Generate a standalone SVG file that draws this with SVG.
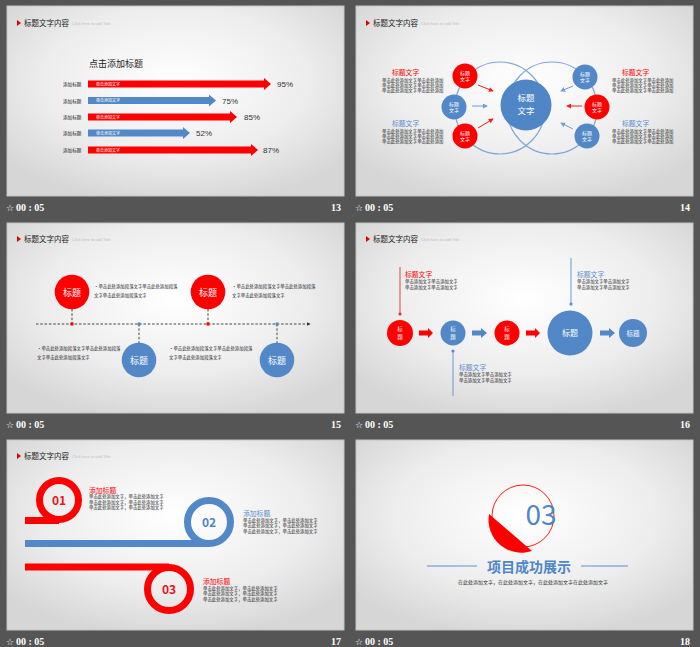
<svg xmlns="http://www.w3.org/2000/svg" width="700" height="647" viewBox="0 0 700 647">
  <defs>
    <radialGradient id="slideBg" cx="0.5" cy="0.4" r="0.65">
      <stop offset="0" stop-color="#ffffff"/>
      <stop offset="0.6" stop-color="#ededed"/>
      <stop offset="1" stop-color="#d6d6d6"/>
    </radialGradient>
    <marker id="arrRed" viewBox="0 0 6 6" refX="5" refY="3" markerWidth="5" markerHeight="5" orient="auto">
      <path d="M0,0 L6,3 L0,6 Z" fill="#ff1a1a"/>
    </marker>
    <marker id="arrBlue" viewBox="0 0 6 6" refX="5" refY="3" markerWidth="5" markerHeight="5" orient="auto">
      <path d="M0,0 L6,3 L0,6 Z" fill="#6f9bd1"/>
    </marker>
    <marker id="arrDark" viewBox="0 0 6 6" refX="5" refY="3" markerWidth="4" markerHeight="4" orient="auto">
      <path d="M0,0 L6,3 L0,6 Z" fill="#333"/>
    </marker>
    <!-- slide heading: red pointer + title + hint -->
    <g id="heading">
      <path d="M17,20 L21,23 L17,26 Z" fill="#e00000"/>
      <text x="24" y="25.5" class="hd">标题文字内容</text>
      <text x="72" y="25" class="hint">Click here to add Title</text>
    </g>
  </defs>
  <style>
    text { font-family: "Noto Sans CJK SC", "Liberation Sans", sans-serif; }
    .slide { fill: url(#slideBg); stroke: #c4c4c4; stroke-width: 1; }
    .hd { font-size: 7.5px; fill: #222; }
    .hint { font-size: 4px; fill: #c0c0c0; font-family: "Liberation Sans", sans-serif; }
    .foot { font-family: "Liberation Serif", "DejaVu Serif", serif; font-weight: bold; font-size: 10px; fill: #ffffff; }
    .star { font-family: "DejaVu Sans", sans-serif; font-size: 9px; fill: #ffffff; }
    .red { fill: #ff0000; }
    .blue { fill: #5288c8; }
    .wt { fill: #ffffff; text-anchor: middle; }
    .body { font-size: 4.4px; fill: #222; }
    .lbl { font-size: 4.6px; fill: #222; }
    .pct { font-size: 8px; fill: #333; font-family: "Liberation Sans", sans-serif; }
    .tRed { font-size: 6.8px; fill: #ff0000; }
    .tBlue { font-size: 6.8px; fill: #5a8fd0; }
    .ring { fill: none; stroke-width: 7; }
  </style>

  <!-- backdrop -->
  <rect x="0" y="0" width="700" height="647" fill="#555555"/>

  <!-- ===== footers ===== -->
  <g id="footers">
    <text x="6" y="211" class="star">☆</text><text x="16" y="211" class="foot">00 : 05</text>
    <text x="341" y="211" class="foot" text-anchor="end">13</text>
    <text x="355" y="211" class="star">☆</text><text x="365" y="211" class="foot">00 : 05</text>
    <text x="690" y="211" class="foot" text-anchor="end">14</text>
    <text x="6" y="428" class="star">☆</text><text x="16" y="428" class="foot">00 : 05</text>
    <text x="341" y="428" class="foot" text-anchor="end">15</text>
    <text x="355" y="428" class="star">☆</text><text x="365" y="428" class="foot">00 : 05</text>
    <text x="690" y="428" class="foot" text-anchor="end">16</text>
    <text x="6" y="645" class="star">☆</text><text x="16" y="645" class="foot">00 : 05</text>
    <text x="341" y="645" class="foot" text-anchor="end">17</text>
    <text x="355" y="645" class="star">☆</text><text x="365" y="645" class="foot">00 : 05</text>
    <text x="690" y="645" class="foot" text-anchor="end">18</text>
  </g>

  <!-- ===== slide 13: bar chart ===== -->
  <g id="slide13">
    <rect x="7" y="6" width="337" height="190" class="slide"/>
    <use href="#heading"/>
    <text x="89" y="67" font-size="9" fill="#222">点击添加标题</text>
    <g id="bar1">
      <text x="63" y="86" class="lbl">添加标题</text>
      <path d="M88,80.5 H264 V78 L271,84 L264,90 V87.5 H88 Z" class="red"/>
      <text x="96" y="85.5" font-size="4" fill="#fff">单击添加文字</text>
      <text x="277" y="87" class="pct">95%</text>
    </g>
    <g id="bar2">
      <text x="63" y="102.5" class="lbl">添加标题</text>
      <path d="M88,97 H209 V94.5 L216,100.5 L209,106.5 V104 H88 Z" class="blue"/>
      <text x="96" y="102" font-size="4" fill="#fff">单击添加文字</text>
      <text x="222" y="103.5" class="pct">75%</text>
    </g>
    <g id="bar3">
      <text x="63" y="119" class="lbl">添加标题</text>
      <path d="M88,113.5 H230 V111 L237,117 L230,123 V120.5 H88 Z" class="red"/>
      <text x="96" y="118.5" font-size="4" fill="#fff">单击添加文字</text>
      <text x="244" y="120" class="pct">85%</text>
    </g>
    <g id="bar4">
      <text x="63" y="135" class="lbl">添加标题</text>
      <path d="M88,129.5 H183 V127 L190,133 L183,139 V136.5 H88 Z" class="blue"/>
      <text x="96" y="134.5" font-size="4" fill="#fff">单击添加文字</text>
      <text x="196" y="136" class="pct">52%</text>
    </g>
    <g id="bar5">
      <text x="63" y="152" class="lbl">添加标题</text>
      <path d="M88,146.5 H251 V144 L258,150 L251,156 V153.5 H88 Z" class="red"/>
      <text x="96" y="151.5" font-size="4" fill="#fff">单击添加文字</text>
      <text x="263" y="153" class="pct">87%</text>
    </g>
  </g>

  <!-- ===== slide 14: converging circles ===== -->
  <g id="slide14">
    <rect x="356" y="6" width="337" height="190" class="slide"/>
    <use href="#heading" x="349"/>
    <g id="rings14" fill="none" stroke="#7fa7d8" stroke-width="1.2">
      <ellipse cx="500" cy="108" rx="45" ry="46"/>
      <ellipse cx="552" cy="108" rx="45" ry="46"/>
    </g>
    <g id="hub14">
      <circle cx="526" cy="105" r="25.5" fill="#4f86c6"/>
      <text x="526" y="101" class="wt" font-size="8.5">标题</text>
      <text x="526" y="114" class="wt" font-size="8.5">文字</text>
    </g>
    <g id="n14a"><circle cx="465" cy="76" r="12.5" class="red"/><text x="465" y="75" class="wt" font-size="5">标题</text><text x="465" y="81" class="wt" font-size="5">文字</text></g>
    <g id="n14b"><circle cx="454" cy="107" r="12.5" class="blue"/><text x="454" y="106" class="wt" font-size="5">标题</text><text x="454" y="112" class="wt" font-size="5">文字</text></g>
    <g id="n14c"><circle cx="465" cy="136" r="12.5" class="red"/><text x="465" y="135" class="wt" font-size="5">标题</text><text x="465" y="141" class="wt" font-size="5">文字</text></g>
    <g id="n14d"><circle cx="585" cy="77" r="12.5" class="blue"/><text x="585" y="76" class="wt" font-size="5">标题</text><text x="585" y="82" class="wt" font-size="5">文字</text></g>
    <g id="n14e"><circle cx="597" cy="107" r="12.5" class="red"/><text x="597" y="106" class="wt" font-size="5">标题</text><text x="597" y="112" class="wt" font-size="5">文字</text></g>
    <g id="n14f"><circle cx="587" cy="136" r="12.5" class="blue"/><text x="587" y="135" class="wt" font-size="5">标题</text><text x="587" y="141" class="wt" font-size="5">文字</text></g>
    <g id="connectors14" stroke-width="1">
      <line x1="478" y1="85" x2="493" y2="91" stroke="#ff1a1a" marker-end="url(#arrRed)"/>
      <line x1="472" y1="106" x2="487" y2="106" stroke="#6f9bd1" marker-end="url(#arrBlue)"/>
      <line x1="478" y1="128" x2="493" y2="119" stroke="#ff1a1a" marker-end="url(#arrRed)"/>
      <line x1="573" y1="86" x2="561" y2="91" stroke="#6f9bd1" marker-end="url(#arrBlue)"/>
      <line x1="582" y1="106" x2="567" y2="106" stroke="#ff1a1a" marker-end="url(#arrRed)"/>
      <line x1="573" y1="129" x2="561" y2="123" stroke="#6f9bd1" marker-end="url(#arrBlue)"/>
    </g>
    <g id="txt14a">
      <text x="392" y="74.5" class="tRed">标题文字</text>
      <text x="382" y="82" class="body">单击此处添加文字单击此处添加</text>
      <text x="382" y="87" class="body">单击此处添加文字单击此处添加</text>
      <text x="382" y="92" class="body">单击此处添加文字单击此处添加</text>
    </g>
    <g id="txt14b">
      <text x="392" y="125.5" class="tBlue">标题文字</text>
      <text x="382" y="133" class="body">单击此处添加文字单击此处添加</text>
      <text x="382" y="138" class="body">单击此处添加文字单击此处添加</text>
      <text x="382" y="143" class="body">单击此处添加文字单击此处添加</text>
    </g>
    <g id="txt14c">
      <text x="622" y="74.5" class="tRed">标题文字</text>
      <text x="612" y="82" class="body">单击此处添加文字单击此处添加</text>
      <text x="612" y="87" class="body">单击此处添加文字单击此处添加</text>
      <text x="612" y="92" class="body">单击此处添加文字单击此处添加</text>
    </g>
    <g id="txt14d">
      <text x="622" y="125.5" class="tBlue">标题文字</text>
      <text x="612" y="133" class="body">单击此处添加文字单击此处添加</text>
      <text x="612" y="138" class="body">单击此处添加文字单击此处添加</text>
      <text x="612" y="143" class="body">单击此处添加文字单击此处添加</text>
    </g>
  </g>

  <!-- ===== slide 15: timeline ===== -->
  <g id="slide15">
    <rect x="7" y="223" width="337" height="190" class="slide"/>
    <use href="#heading" y="216"/>
    <g id="connectors15" stroke="#333" stroke-width="0.9" stroke-dasharray="2.5,1.8" fill="none">
      <line x1="36" y1="324" x2="310" y2="324" marker-end="url(#arrDark)"/>
      <line x1="72" y1="309" x2="72" y2="324"/>
      <line x1="208" y1="309" x2="208" y2="324"/>
      <line x1="139" y1="324" x2="139" y2="343"/>
      <line x1="277" y1="324" x2="277" y2="343"/>
    </g>
    <g id="dots15">
      <rect x="70.5" y="322.5" width="3" height="3" fill="#ff0000"/>
      <rect x="206.5" y="322.5" width="3" height="3" fill="#ff0000"/>
      <rect x="137.5" y="322.5" width="3" height="3" fill="#5288c8"/>
      <rect x="275.5" y="322.5" width="3" height="3" fill="#5288c8"/>
    </g>
    <g id="n15a"><circle cx="72" cy="292" r="17.3" class="red"/><text x="72" y="295.5" class="wt" font-size="9">标题</text></g>
    <g id="n15b"><circle cx="208" cy="292" r="17.3" class="red"/><text x="208" y="295.5" class="wt" font-size="9">标题</text></g>
    <g id="n15c"><circle cx="139" cy="360" r="17.3" class="blue"/><text x="139" y="363.5" class="wt" font-size="9">标题</text></g>
    <g id="n15d"><circle cx="277" cy="360" r="17.3" class="blue"/><text x="277" y="363.5" class="wt" font-size="9">标题</text></g>
    <text x="94" y="288" class="body">•单击此处添加段落文字单击此处添加段落</text>
    <text x="94" y="297" class="body">文字单击此处添加段落文字</text>
    <text x="232" y="288" class="body">•单击此处添加段落文字单击此处添加段落</text>
    <text x="232" y="297" class="body">文字单击此处添加段落文字</text>
    <text x="37" y="350" class="body">•单击此处添加段落文字单击此处添加段落</text>
    <text x="37" y="359" class="body">文字单击此处添加段落文字</text>
    <text x="169" y="350" class="body">•单击此处添加段落文字单击此处添加段落</text>
    <text x="169" y="359" class="body">文字单击此处添加段落文字</text>
  </g>

  <!-- ===== slide 16: process flow ===== -->
  <g id="slide16">
    <rect x="356" y="223" width="337" height="190" class="slide"/>
    <use href="#heading" x="349" y="216"/>
    <g id="connectors16">
      <path d="M419,330.5 H428 V328 L433,333 L428,338 V335.5 H419 Z" class="red"/>
      <path d="M472,330.5 H481 V328 L487,333 L481,338 V335.5 H472 Z" class="blue"/>
      <path d="M526,330.5 H535 V328 L540,333 L535,338 V335.5 H526 Z" class="red"/>
      <path d="M600,330.5 H609 V328 L615,333 L609,338 V335.5 H600 Z" class="blue"/>
      <line x1="400" y1="267" x2="400" y2="314" stroke="#e53030" stroke-width="0.9"/>
      <circle cx="400" cy="314" r="1.6" fill="#e53030"/>
      <line x1="571" y1="258" x2="571" y2="304" stroke="#5a8fd0" stroke-width="0.9"/>
      <circle cx="571" cy="304" r="1.6" fill="#5a8fd0"/>
      <line x1="453" y1="351" x2="453" y2="396" stroke="#5a8fd0" stroke-width="0.9"/>
      <circle cx="453" cy="351" r="1.6" fill="#5a8fd0"/>
    </g>
    <g id="n16a"><circle cx="400" cy="333" r="13" class="red"/><text x="400" y="331" class="wt" font-size="5.5">标</text><text x="400" y="339" class="wt" font-size="5.5">题</text></g>
    <g id="n16b"><circle cx="453" cy="333" r="12.5" class="blue"/><text x="453" y="331" class="wt" font-size="5.5">标</text><text x="453" y="339" class="wt" font-size="5.5">题</text></g>
    <g id="n16c"><circle cx="507" cy="333" r="12.5" class="red"/><text x="507" y="331" class="wt" font-size="5.5">标</text><text x="507" y="339" class="wt" font-size="5.5">题</text></g>
    <g id="n16d"><circle cx="570" cy="333" r="22.5" class="blue"/><text x="570" y="336" class="wt" font-size="8">标题</text></g>
    <g id="n16e"><circle cx="633" cy="333" r="14" class="blue"/><text x="633" y="335.5" class="wt" font-size="6.5">标题</text></g>
    <text x="405" y="276.5" class="tRed">标题文字</text>
    <text x="405" y="282.5" class="body">单击添加文字单击添加文字</text>
    <text x="405" y="288.5" class="body">单击添加文字单击添加文字</text>
    <text x="577" y="276.5" class="tBlue">标题文字</text>
    <text x="577" y="282.5" class="body">单击添加文字单击添加文字</text>
    <text x="577" y="288.5" class="body">单击添加文字单击添加文字</text>
    <text x="459" y="369.5" class="tBlue">标题文字</text>
    <text x="459" y="375.5" class="body">单击添加文字单击添加文字</text>
    <text x="459" y="381.5" class="body">单击添加文字单击添加文字</text>
  </g>

  <!-- ===== slide 17: ribbon loops ===== -->
  <g id="slide17">
    <rect x="7" y="440" width="337" height="190" class="slide"/>
    <use href="#heading" y="433"/>
    <g id="loop01">
      <rect x="25" y="517" width="34" height="7" fill="#ff0000"/>
      <circle cx="59" cy="500" r="19.5" class="ring" stroke="#ff0000"/>
      <text x="59" y="504.5" font-family="DejaVu Sans, sans-serif" font-weight="bold" font-size="12" fill="#e8141e" text-anchor="middle">01</text>
    </g>
    <g id="loop02">
      <rect x="25" y="540" width="184" height="7" fill="#5288c8"/>
      <circle cx="209" cy="522" r="21.5" class="ring" stroke="#5288c8"/>
      <text x="209" y="526.5" font-family="DejaVu Sans, sans-serif" font-weight="bold" font-size="12" fill="#4f86c6" text-anchor="middle">02</text>
    </g>
    <g id="loop03">
      <rect x="25" y="563.5" width="144" height="7" fill="#ff0000"/>
      <circle cx="169" cy="589" r="21.5" class="ring" stroke="#ff0000"/>
      <text x="169" y="593.5" font-family="DejaVu Sans, sans-serif" font-weight="bold" font-size="12" fill="#e8141e" text-anchor="middle">03</text>
    </g>
    <text x="89" y="492.5" class="tRed">添加标题</text>
    <text x="89" y="498" class="body">单击此处添加文字，单击此处添加文字</text>
    <text x="89" y="503.5" class="body">单击此处添加文字，单击此处添加文字</text>
    <text x="89" y="509" class="body">单击此处添加文字，单击此处添加文字</text>
    <text x="243" y="515.5" class="tBlue">添加标题</text>
    <text x="243" y="521.5" class="body">单击此处添加文字，单击此处添加文字</text>
    <text x="243" y="527" class="body">单击此处添加文字，单击此处添加文字</text>
    <text x="243" y="532.5" class="body">单击此处添加文字，单击此处添加文字</text>
    <text x="203" y="583.5" class="tRed">添加标题</text>
    <text x="203" y="589.5" class="body">单击此处添加文字，单击此处添加文字</text>
    <text x="203" y="595" class="body">单击此处添加文字，单击此处添加文字</text>
    <text x="203" y="600.5" class="body">单击此处添加文字，单击此处添加文字</text>
  </g>

  <!-- ===== slide 18: section divider ===== -->
  <g id="slide18">
    <rect x="356" y="440" width="337" height="190" class="slide"/>
    <g id="badge18">
      <circle cx="523" cy="516" r="31" fill="none" stroke="#ff1a1a" stroke-width="1"/>
      <path d="M489,514 A33,33 0 0,0 532,551 Z" fill="#ff0000"/>
      <text x="541" y="525" font-family="Liberation Sans, sans-serif" font-size="28" fill="#4f86c6" text-anchor="middle">03</text>
    </g>
    <line x1="427" y1="566" x2="477" y2="566" stroke="#5a8fd0" stroke-width="1"/>
    <line x1="581" y1="566" x2="628" y2="566" stroke="#5a8fd0" stroke-width="1"/>
    <text x="529" y="571.5" font-size="14" font-weight="bold" fill="#4f86c6" text-anchor="middle">项目成功展示</text>
    <text x="533" y="584" font-size="5" fill="#333" text-anchor="middle">在此处添加文字，在此处添加文字，在此处添加文字在此处添加文字</text>
  </g>
</svg>
